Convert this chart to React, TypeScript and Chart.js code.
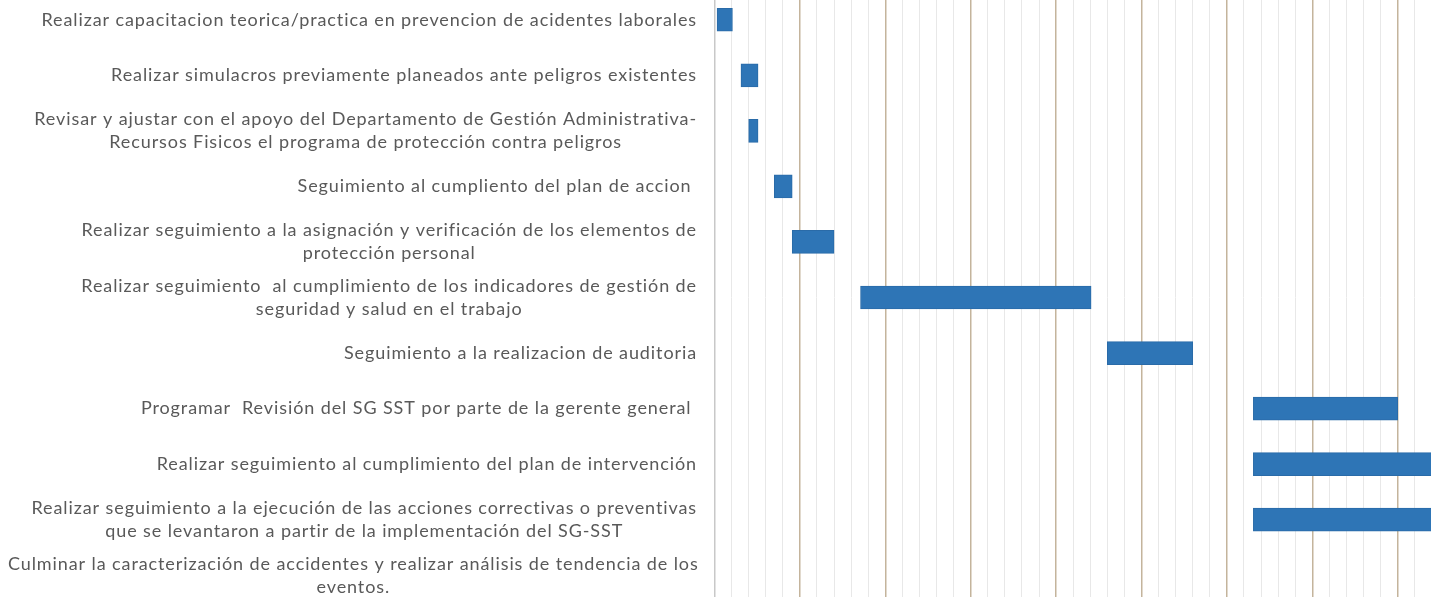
import React, { useEffect, useRef } from "react";
import { Chart, registerables } from "chart.js";

Chart.register(...registerables);

const categories: string[] = [
  "Realizar capacitacion teorica/practica en prevencion de acidentes laborales",
  "Realizar simulacros previamente planeados ante peligros existentes",
  "Revisar y ajustar con el apoyo del Departamento de Gestión Administrativa-\nRecursos Fisicos el programa de protección contra peligros",
  "Seguimiento al cumpliento del plan de accion ",
  "Realizar seguimiento a la asignación y verificación de los elementos de\nprotección personal",
  "Realizar seguimiento  al cumplimiento de los indicadores de gestión de\nseguridad y salud en el trabajo",
  "Seguimiento a la realizacion de auditoria",
  "Programar  Revisión del SG SST por parte de la gerente general ",
  "Realizar seguimiento al cumplimiento del plan de intervención",
  "Realizar seguimiento a la ejecución de las acciones correctivas o preventivas\nque se levantaron a partir de la implementación del SG-SST",
  "Culminar la caracterización de accidentes y realizar análisis de tendencia de los\neventos.",
];

const startValues: (number | null)[] = [0.15, 1.55, 2.0, 3.5, 4.55, 8.55, 23.0, 31.55, 31.55, 31.55, null];
const endValues: (number | null)[] = [1.05, 2.55, 2.55, 4.55, 7.0, 22.05, 28.0, 40.0, 44, 44, null];

const xMin = 0;
const xMax = 44;
const majorEvery = 5;

const labelPlugin = {
  id: "wrappedLabels",
  afterDraw(chart: any) {
    const ctx = chart.ctx as CanvasRenderingContext2D;
    const yScale = chart.scales.y;
    ctx.save();
    ctx.font = "18px Lato";
    (ctx as any).letterSpacing = "0.9px";
    ctx.fillStyle = "#595959";
    ctx.textBaseline = "middle";
    ctx.textAlign = "center";
    const lineH = 23;
    const right = 697;
    categories.forEach((lab, i) => {
      const lines = lab.split("\n");
      const cy = yScale.getPixelForValue(i);
      const maxW = Math.max(...lines.map((l) => ctx.measureText(l).width));
      let left = right - maxW;
      if (left < 8) left = 8;
      const cx = left + maxW / 2;
      const y0 = cy - ((lines.length - 1) * lineH) / 2;
      lines.forEach((l, k) => ctx.fillText(l, cx, y0 + k * lineH));
    });
    ctx.restore();
  },
};

export default function App() {
  const ref = useRef<HTMLCanvasElement>(null);
  useEffect(() => {
    if (!ref.current) return;
    const data = categories.map((_, i) =>
      startValues[i] === null ? null : [startValues[i] as number, endValues[i] as number]
    );
    const chart = new Chart(ref.current, {
      type: "bar",
      data: {
        labels: categories,
        datasets: [
          {
            data: data as any,
            backgroundColor: "#2E75B6",
            borderColor: "#2A6BA8",
            borderWidth: 1,
            barThickness: 23,
            borderSkipped: false,
          },
        ],
      },
      options: {
        indexAxis: "y",
        animation: false,
        responsive: false,
        layout: { padding: 0 },
        plugins: { legend: { display: false }, tooltip: { enabled: false } },
        scales: {
          x: {
            type: "linear",
            min: xMin,
            max: xMax,
            ticks: { display: false, stepSize: 1 },
            grid: {
              drawTicks: false,
              color: (c: any) => {
                const v = c.tick ? c.tick.value : 0;
                if (v === 0) return "#c8c8c8";
                return v % majorEvery === 0 ? "#c4b49c" : "#e8e8e8";
              },
              lineWidth: (c: any) => {
                const v = c.tick ? c.tick.value : 0;
                return v % majorEvery === 0 ? 1.5 : 1;
              },
            },
            border: { display: false },
          },
          y: {
            type: "category",
            ticks: { display: false },
            grid: { display: false, drawTicks: false },
            border: { display: true, color: "#c8c8c8" },
            afterFit: (s: any) => {
              s.width = 714.5;
            },
          },
        },
      },
      plugins: [labelPlugin],
    });
    return () => chart.destroy();
  }, []);
  return (
    <div style={{ position: "fixed", left: 0, top: 0, width: 1431, height: 597, overflow: "hidden", background: "#fff" }}>
      <canvas ref={ref} width={1466} height={611} style={{ position: "absolute", left: 0, top: -8, width: 1466, height: 611 }} />
    </div>
  );
}
